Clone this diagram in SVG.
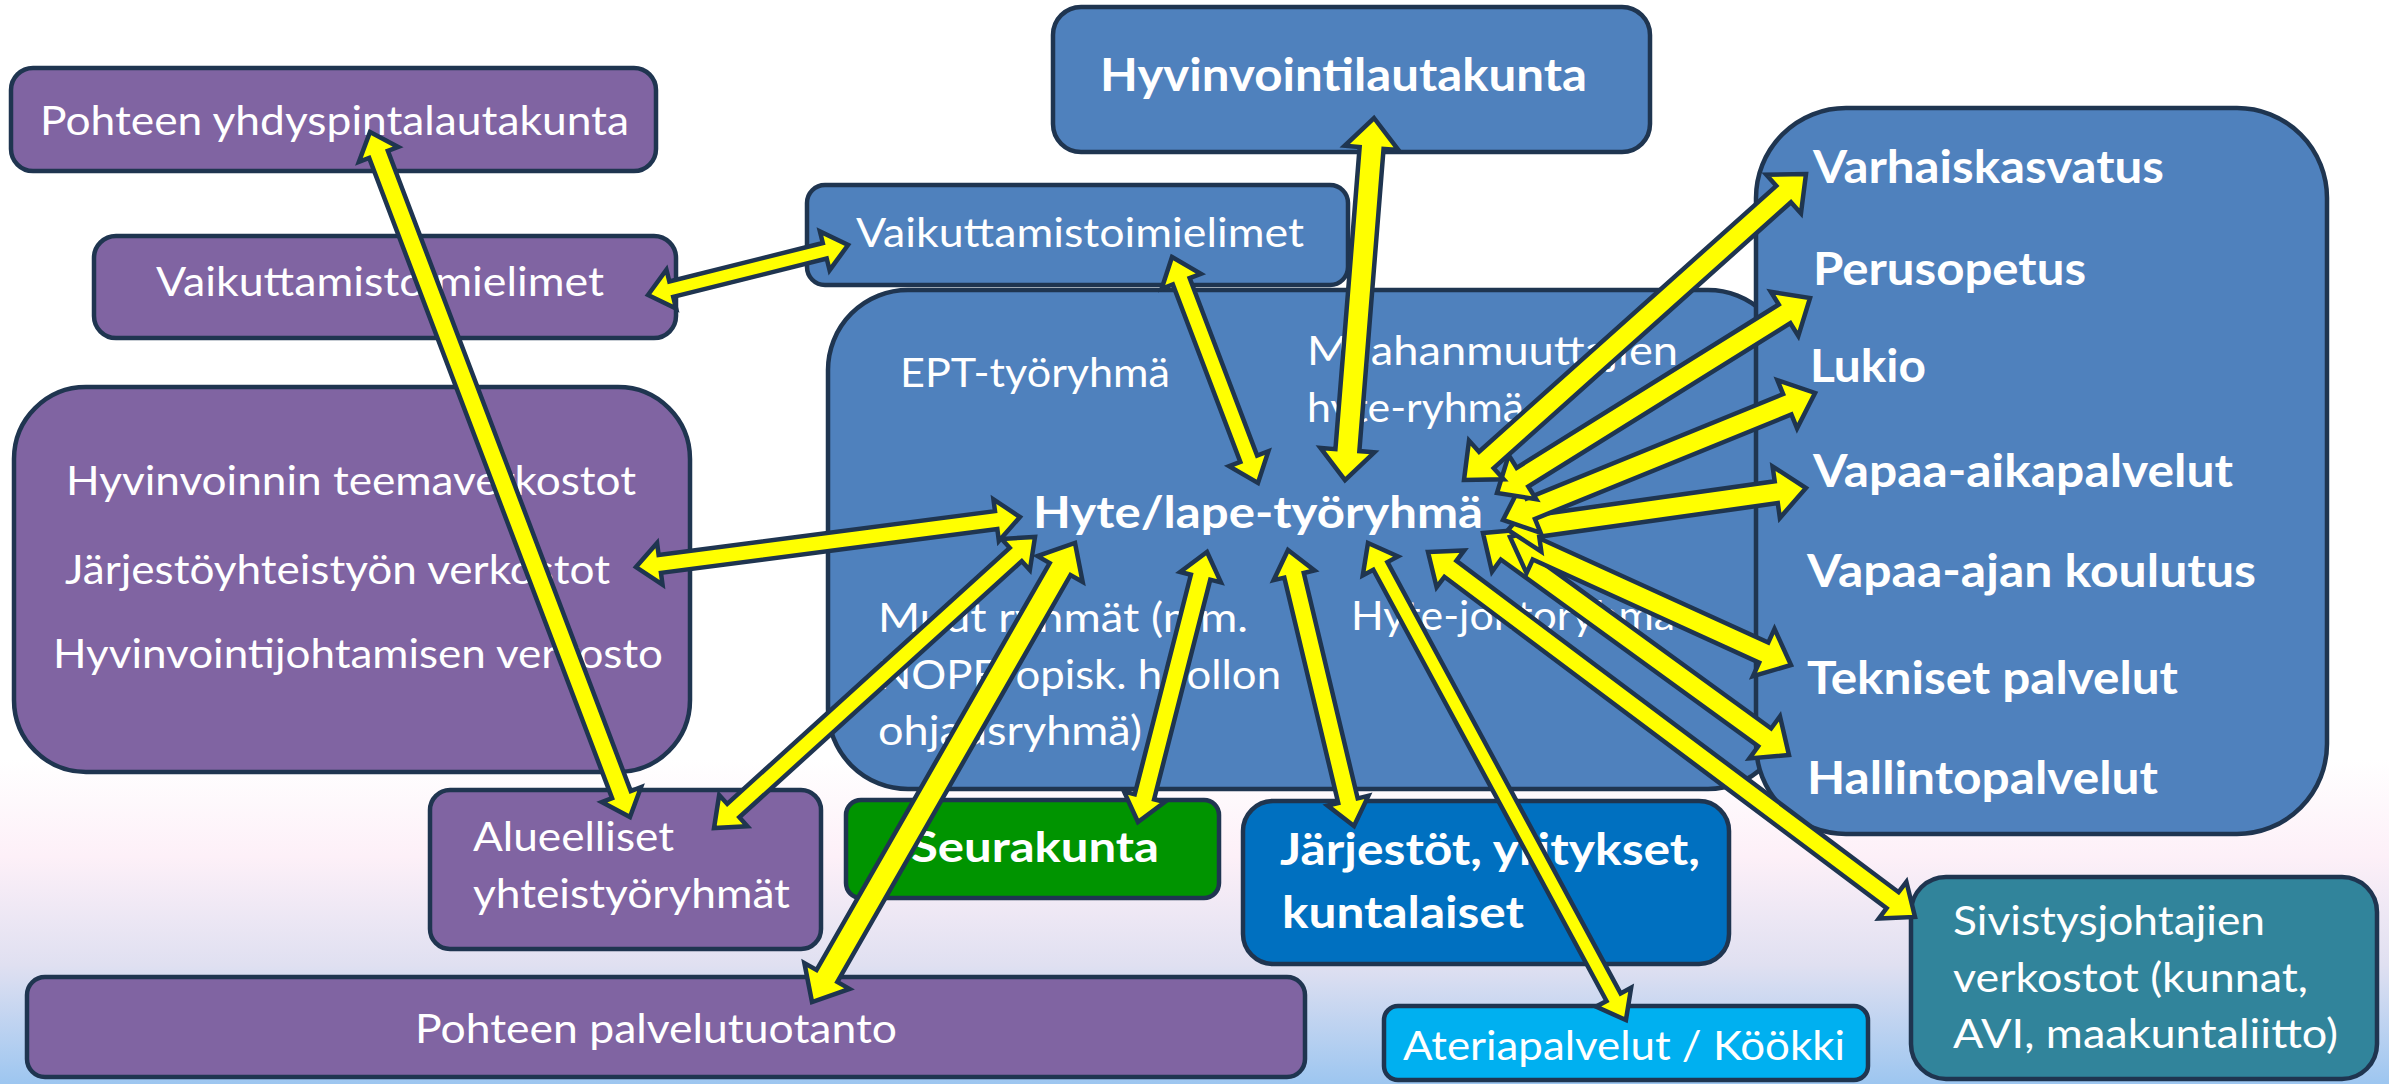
<svg xmlns="http://www.w3.org/2000/svg" width="2389" height="1084" viewBox="0 0 2389 1084">
<defs>
<style>
.box{stroke:#1f3550;stroke-width:4.5}
.pu{fill:#8064a2}.bl{fill:#4f81bd}.gr{fill:#009400}.db{fill:#0070c0}.cy{fill:#00b0f0}.te{fill:#31849b}
text{font-family:Lato,"Liberation Sans",sans-serif;fill:#ffffff}
.r{font-size:40px}
.b{font-size:46px;font-weight:bold}
.arr{fill:#ffff00;stroke:#1f3550;stroke-width:4.5;stroke-linejoin:miter}
</style>
<linearGradient id="bg" x1="0" y1="0" x2="0" y2="1">
<stop offset="0" stop-color="#ffffff"/>
<stop offset="0.70" stop-color="#ffffff"/>
<stop offset="0.79" stop-color="#fdf0f8"/>
<stop offset="0.89" stop-color="#e0e0f1"/>
<stop offset="1" stop-color="#9dc6f0"/>
</linearGradient>
</defs>
<rect width="2389" height="1084" fill="url(#bg)"/>

<g id="n-yhdyspinta">
<rect class="box pu" x="11" y="68" width="645" height="103" rx="22"/>
<text class="r" x="40" y="135" textLength="589" lengthAdjust="spacingAndGlyphs">Pohteen yhdyspintalautakunta</text>
</g>
<g id="n-vaikuttamis-left">
<rect class="box pu" x="94" y="236" width="582" height="102" rx="22"/>
<text class="r" x="156" y="296" textLength="448" lengthAdjust="spacingAndGlyphs">Vaikuttamistoimielimet</text>
</g>
<g id="n-verkostot">
<rect class="box pu" x="14" y="387" width="676" height="385" rx="72"/>
<text class="r" x="66" y="495" textLength="570" lengthAdjust="spacingAndGlyphs">Hyvinvoinnin teemaverkostot</text>
<text class="r" x="65" y="584" textLength="545" lengthAdjust="spacingAndGlyphs">Järjestöyhteistyön verkostot</text>
<text class="r" x="53" y="668" textLength="610" lengthAdjust="spacingAndGlyphs">Hyvinvointijohtamisen verkosto</text>
</g>
<g id="n-hyvinvointilautakunta">
<rect class="box bl" x="1053" y="7" width="597" height="145" rx="28"/>
<text class="b" x="1100" y="91" textLength="487" lengthAdjust="spacingAndGlyphs">Hyvinvointilautakunta</text>
</g>
<g id="n-vaikuttamis-blue">
<rect class="box bl" x="807" y="185" width="541" height="100" rx="18"/>
<text class="r" x="856" y="247" textLength="448" lengthAdjust="spacingAndGlyphs">Vaikuttamistoimielimet</text>
</g>
<g id="n-hyte">
<rect class="box bl" x="828" y="290" width="960" height="499" rx="80"/>
<text class="r" x="900" y="387" textLength="270" lengthAdjust="spacingAndGlyphs">EPT-työryhmä</text>
<text class="r" x="1307" y="365" textLength="371" lengthAdjust="spacingAndGlyphs">Maahanmuuttajien</text>
<text class="r" x="1307" y="422" textLength="217" lengthAdjust="spacingAndGlyphs">hyte-ryhmä</text>
<text class="b" x="1033" y="528" textLength="450" lengthAdjust="spacingAndGlyphs" style="font-size:44px">Hyte/lape-työryhmä</text>
<text class="r" x="878" y="632" textLength="370" lengthAdjust="spacingAndGlyphs">Muut ryhmät (mm.</text>
<text class="r" x="878" y="689" textLength="403" lengthAdjust="spacingAndGlyphs">NOPE/opisk. huollon</text>
<text class="r" x="878" y="745" textLength="264" lengthAdjust="spacingAndGlyphs">ohjausryhmä)</text>
<text class="r" x="1351" y="630" textLength="324" lengthAdjust="spacingAndGlyphs">Hyte-johtoryhmä</text>
</g>
<g id="n-sivistys">
<rect class="box bl" x="1756" y="108" width="571" height="726" rx="90"/>
<text class="b" x="1813" y="183" textLength="351" lengthAdjust="spacingAndGlyphs">Varhaiskasvatus</text>
<text class="b" x="1813" y="285" textLength="273" lengthAdjust="spacingAndGlyphs">Perusopetus</text>
<text class="b" x="1810" y="382" textLength="116" lengthAdjust="spacingAndGlyphs">Lukio</text>
<text class="b" x="1813" y="487" textLength="420" lengthAdjust="spacingAndGlyphs">Vapaa-aikapalvelut</text>
<text class="b" x="1807" y="587" textLength="449" lengthAdjust="spacingAndGlyphs">Vapaa-ajan koulutus</text>
<text class="b" x="1807" y="694" textLength="371" lengthAdjust="spacingAndGlyphs">Tekniset palvelut</text>
<text class="b" x="1807" y="794" textLength="351" lengthAdjust="spacingAndGlyphs">Hallintopalvelut</text>
</g>
<g id="n-alueelliset">
<rect class="box pu" x="430" y="790" width="391" height="159" rx="20"/>
<text class="r" x="473" y="851" textLength="201" lengthAdjust="spacingAndGlyphs">Alueelliset</text>
<text class="r" x="473" y="908" textLength="317" lengthAdjust="spacingAndGlyphs">yhteistyöryhmät</text>
</g>
<g id="n-seurakunta">
<rect class="box gr" x="846" y="800" width="373" height="98" rx="15"/>
<text class="b" x="911" y="862" textLength="248" lengthAdjust="spacingAndGlyphs" style="font-size:42px">Seurakunta</text>
</g>
<g id="n-palvelutuotanto">
<rect class="box pu" x="27" y="977" width="1278" height="100" rx="18"/>
<text class="r" x="415" y="1043" textLength="482" lengthAdjust="spacingAndGlyphs">Pohteen palvelutuotanto</text>
</g>
<g id="n-jarjestot">
<rect class="box db" x="1243" y="801" width="486" height="163" rx="30"/>
<text class="b" x="1280" y="865" textLength="420" lengthAdjust="spacingAndGlyphs" style="font-size:43px">Järjestöt, yritykset,</text>
<text class="b" x="1282" y="928" textLength="242" lengthAdjust="spacingAndGlyphs" style="font-size:43px">kuntalaiset</text>
</g>
<g id="n-ateria">
<rect class="box cy" x="1384" y="1006" width="484" height="74" rx="14"/>
<text class="r" x="1403" y="1060" textLength="442" lengthAdjust="spacingAndGlyphs">Ateriapalvelut / Köökki</text>
</g>
<g id="n-sivistysjohtajat">
<rect class="box te" x="1911" y="877" width="466" height="202" rx="35"/>
<text class="r" x="1953" y="935" textLength="312" lengthAdjust="spacingAndGlyphs">Sivistysjohtajien</text>
<text class="r" x="1953" y="992" textLength="355" lengthAdjust="spacingAndGlyphs">verkostot (kunnat,</text>
<text class="r" x="1953" y="1048" textLength="385" lengthAdjust="spacingAndGlyphs">AVI, maakuntaliitto)</text>
</g>

<g id="connectors">
<polygon class="arr" transform="translate(370,132) rotate(69.22)" points="0,0 24,-21 24,-10 708.7,-10 708.7,-21 732.7,0 708.7,21 708.7,10 24,10 24,21"/>
<polygon class="arr" transform="translate(648,295) rotate(-14.04)" points="0,0 24,-20 24,-8 182.2,-8 182.2,-20 206.2,0 182.2,20 182.2,8 24,8 24,20"/>
<polygon class="arr" transform="translate(1172,257) rotate(69.17)" points="0,0 26,-21 26,-9 215.8,-9 215.8,-21 241.8,0 215.8,21 215.8,9 26,9 26,21"/>
<polygon class="arr" transform="translate(1374,118) rotate(94.58)" points="0,0 30,-27 30,-12 333.2,-12 333.2,-27 363.2,0 333.2,27 333.2,12 30,12 30,27"/>
<polygon class="arr" transform="translate(636,567) rotate(-7.42)" points="0,0 24,-21 24,-9 363.2,-9 363.2,-21 387.2,0 363.2,21 363.2,9 24,9 24,21"/>
<polygon class="arr" transform="translate(1035,537) rotate(137.8)" points="0,0 26,-21 26,-9 407.3,-9 407.3,-21 433.3,0 407.3,21 407.3,9 26,9 26,21"/>
<polygon class="arr" transform="translate(1075,543) rotate(119.81)" points="0,0 30,-26 30,-12 499,-12 499,-26 529,0 499,26 499,12 30,12 30,26"/>
<polygon class="arr" transform="translate(1207,552) rotate(104.34)" points="0,0 26,-21 26,-10 252.7,-10 252.7,-21 278.7,0 252.7,21 252.7,10 26,10 26,21"/>
<polygon class="arr" transform="translate(1288,550) rotate(76.55)" points="0,0 26,-21 26,-10 257.8,-10 257.8,-21 283.8,0 257.8,21 257.8,10 26,10 26,21"/>
<polygon class="arr" transform="translate(1368,543) rotate(61.6)" points="0,0 26,-20 26,-8 516.3,-8 516.3,-20 542.3,0 516.3,20 516.3,8 26,8 26,20"/>
<polygon class="arr" transform="translate(1428,552) rotate(36.85)" points="0,0 28,-23 28,-10 580.6,-10 580.6,-23 608.6,0 580.6,23 580.6,10 28,10 28,23"/>
<polygon class="arr" transform="translate(1483,533) rotate(35.96)" points="0,0 30,-26 30,-11 348,-11 348,-26 378,0 348,26 348,11 30,11 30,26"/>
<polygon class="arr" transform="translate(1510,537) rotate(24.49)" points="0,0 30,-26 30,-11 278.8,-11 278.8,-26 308.8,0 278.8,26 278.8,11 30,11 30,26"/>
<polygon class="arr" transform="translate(1508,530) rotate(-8.02)" points="0,0 30,-26 30,-11 270.9,-11 270.9,-26 300.9,0 270.9,26 270.9,11 30,11 30,26"/>
<polygon class="arr" transform="translate(1503,520) rotate(-22.15)" points="0,0 30,-26 30,-11 306.9,-11 306.9,-26 336.9,0 306.9,26 306.9,11 30,11 30,26"/>
<polygon class="arr" transform="translate(1497,493) rotate(-31.92)" points="0,0 30,-26 30,-11 338.8,-11 338.8,-26 368.8,0 338.8,26 338.8,11 30,11 30,26"/>
<polygon class="arr" transform="translate(1464,480) rotate(-41.82)" points="0,0 30,-26 30,-11 428.9,-11 428.9,-26 458.9,0 428.9,26 428.9,11 30,11 30,26"/>
</g>
</svg>
